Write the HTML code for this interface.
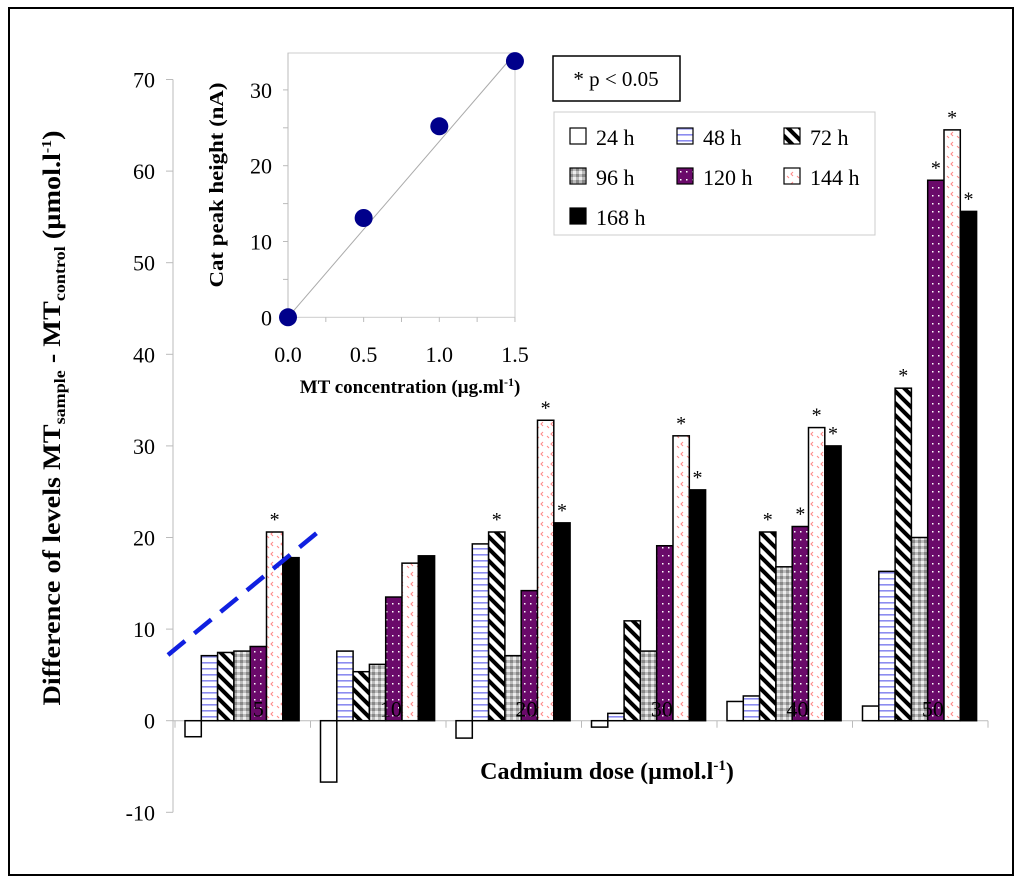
<!DOCTYPE html>
<html><head><meta charset="utf-8"><style>
body{margin:0;background:#fff;}
svg, svg text{font-family:"Liberation Serif","DejaVu Serif",serif;}
</style></head><body>
<svg width="1024" height="881" viewBox="0 0 1024 881">
<defs>
<pattern id="p48" width="8" height="6" patternUnits="userSpaceOnUse"><rect width="8" height="6" fill="#fff"/><rect y="2" width="8" height="1.6" fill="#8c8cf0"/></pattern>
<pattern id="p72" width="12" height="12" patternUnits="userSpaceOnUse"><rect width="12" height="12" fill="#fff"/><path d="M-3,-3 L15,15 M-3,9 L3,15 M9,-3 L15,3" stroke="#000" stroke-width="4"/></pattern>
<pattern id="p96" width="6" height="6" patternUnits="userSpaceOnUse"><rect width="6" height="6" fill="#bbb"/><rect width="3" height="3" fill="#888"/><rect x="3" y="3" width="3" height="3" fill="#eee"/></pattern>
<pattern id="p120" width="6" height="8" patternUnits="userSpaceOnUse"><rect width="6" height="8" fill="#6a0a6a"/><rect x="2" y="3" width="1.5" height="1.5" fill="#fff"/></pattern>
<pattern id="p144" width="10" height="10" patternUnits="userSpaceOnUse"><rect width="10" height="10" fill="#fff"/><path d="M3,2 L1,4 L3,6 M7,6 L9,8" stroke="#f88" stroke-width="1" fill="none"/></pattern>
</defs>
<rect x="9" y="8" width="1004" height="867" fill="none" stroke="#000" stroke-width="2"/>
<g id="main"></g>
<g id="inset"></g>
<g>
<rect x="553" y="56" width="127" height="45" fill="#fff" stroke="#000" stroke-width="1.5"/>
<text x="616" y="86" font-size="21" text-anchor="middle">* p &lt; 0.05</text>
</g>
<g id="legend"><rect x="554" y="112" width="321" height="123" fill="#fff" stroke="#ccc"/></g>
<text transform="translate(60,418) rotate(-90)" font-size="25" font-weight="bold" text-anchor="middle" textLength="575" lengthAdjust="spacingAndGlyphs">Difference of levels MT<tspan font-size="16" dy="5">sample</tspan><tspan dy="-5"> - MT</tspan><tspan font-size="16" dy="5">control</tspan><tspan dy="-5"> (µmol.l</tspan><tspan font-size="14" dy="-9">-1</tspan><tspan dy="9">)</tspan></text>
<text x="607" y="779" font-size="24" font-weight="bold" text-anchor="middle">Cadmium dose (µmol.l<tspan font-size="15" dy="-9">-1</tspan><tspan dy="9">)</tspan></text>
</svg>
<script>
const categories=["5","10","20","30","40","50"];
const seriesNames=["24 h","48 h","72 h","96 h","120 h","144 h","168 h"];
const v24=[-1.75,-6.7,-1.9,-0.7,2.1,1.6];
const v48=[7.1,7.6,19.3,0.8,2.7,16.3];
const v72=[7.45,5.35,20.6,10.9,20.6,36.3];
const v96=[7.6,6.15,7.1,7.6,16.8,20.0];
const v120=[8.1,13.5,14.2,19.1,21.2,59.0];
const v144=[20.6,17.2,32.8,31.1,32.0,64.5];
const v168=[17.8,18.0,21.6,25.2,30.0,55.6];
const sig=[[0,0,0,0,0,1,0],[0,0,0,0,0,0,0],[0,0,1,0,0,1,1],[0,0,0,0,0,1,1],[0,0,1,0,1,1,1],[0,0,1,0,1,1,1]];
const yTicks=[-10,0,10,20,30,40,50,60,70];
const insetX=[0,0.5,1.0,1.5];
const insetY=[0,13.1,25.2,33.8];
const insetXTicks=["0.0","0.5","1.0","1.5"];
const insetYTicks=[0,10,20,30];
const NS="http://www.w3.org/2000/svg";
function mk(p,t,a,txt){const e=document.createElementNS(NS,t);for(const k in a)e.setAttribute(k,a[k]);if(txt!==undefined)e.textContent=txt;p.appendChild(e);return e;}
const fills=["#fff","url(#p48)","url(#p72)","url(#p96)","url(#p120)","url(#p144)","#000"];
const series=[v24,v48,v72,v96,v120,v144,v168];
const main=document.getElementById('main');
const X0=175,CW=135.5,BW=16.3,OFF=10;
const y=v=>720.7-v*9.16;
const ax=mk(main,'line',{x1:173,y1:y(70),x2:173,y2:y(-10),stroke:'#bbb'});

yTicks.forEach(t=>{mk(main,'line',{x1:166,x2:173,y1:y(t),y2:y(t),stroke:'#bbb'});
const l=mk(main,'text',{x:155,y:y(t)+8,'font-size':22,'text-anchor':'end'},String(t));
});
const xa=mk(main,'line',{x1:173,x2:X0+6*CW,y1:y(0),y2:y(0),stroke:'#bbb'});

for(let c=0;c<=6;c++)mk(main,'line',{x1:X0+c*CW,x2:X0+c*CW,y1:y(0),y2:y(0)+7,stroke:'#bbb'});
categories.forEach((cat,c)=>{
 series.forEach((s,i)=>{const v=s[c];const x=X0+c*CW+OFF+i*BW;
  const r=mk(main,'rect',{x:x,y:Math.min(y(v),y(0)),width:BW,height:Math.abs(y(v)-y(0)),fill:fills[i],stroke:'#000','stroke-width':1.5});
  
  
  if(sig[c][i]){const a=mk(main,'text',{x:x+BW/2,y:Math.min(y(v),y(0))-6,'font-size':20,'text-anchor':'middle'},'*');
  }
 });
 const lab=mk(main,'text',{x:X0+c*CW+OFF+4.5*BW+ (cat.length>1?-3:0),y:y(0)-4,'font-size':22,'text-anchor':'middle'},cat);
 
});
const dl=mk(main,'line',{x1:168,y1:655,x2:318,y2:532,stroke:'#1020e0','stroke-width':4.5,'stroke-dasharray':'22 12'});

// inset
const ins=document.getElementById('inset');
const ix=v=>288+v*151.3, iy=v=>317.3-v*7.58;
mk(ins,'rect',{x:288,y:53,width:227,height:264.3,fill:'#fff',stroke:'#ccc'});
mk(ins,'line',{x1:288,y1:53,x2:288,y2:317.3,stroke:'#bbb'});
for(let t=0;t<=30;t+=5)mk(ins,'line',{x1:283,x2:288,y1:iy(t),y2:iy(t),stroke:'#bbb'});
for(let t=0;t<=1.5;t+=0.25)mk(ins,'line',{x1:ix(t),x2:ix(t),y1:317.3,y2:322,stroke:'#bbb'});
insetYTicks.forEach(t=>{const l=mk(ins,'text',{x:272,y:iy(t)+8,'font-size':22,'text-anchor':'end'},String(t));
});
insetXTicks.forEach((t,i)=>{const l=mk(ins,'text',{x:ix(insetX[i]),y:362,'font-size':22,'text-anchor':'middle'},t);
});
const tl=mk(ins,'line',{x1:ix(0),y1:iy(0),x2:ix(1.5),y2:iy(34.8),stroke:'#aaa','stroke-width':1});

insetX.forEach((xv,i)=>{const p=mk(ins,'circle',{cx:ix(xv),cy:iy(insetY[i]),r:9,fill:'#00008b'});
});
const it=mk(ins,'text',{x:410,y:393,'font-size':19,'font-weight':'bold','text-anchor':'middle'},'MT concentration (µg.ml');
mk(it,'tspan',{'font-size':12,dy:-7},'-1');mk(it,'tspan',{dy:7},')');

const iyt=mk(ins,'text',{transform:'translate(223,185) rotate(-90)','font-size':20,'font-weight':'bold','text-anchor':'middle',textLength:205,lengthAdjust:'spacingAndGlyphs'},'Cat peak height (nA)');

// legend
const lg=document.getElementById('legend');
seriesNames.forEach((n,i)=>{const col=i%3,row=Math.floor(i/3);const sx=570+col*107,sy=128+row*40;
 const g=mk(lg,'g',{});
 
 mk(g,'rect',{x:sx,y:sy,width:16,height:16,fill:fills[i],stroke:'#000','stroke-width':1.2});
 mk(g,'text',{x:sx+26,y:sy+17,'font-size':22},n);
});
</script>
</body></html>
